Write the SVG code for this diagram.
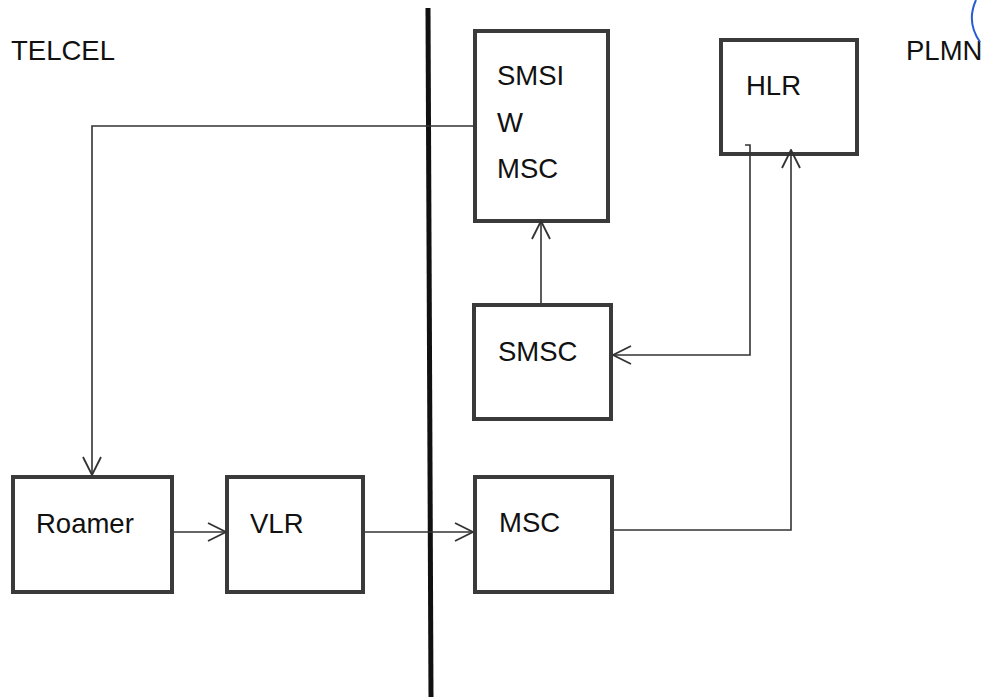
<svg xmlns="http://www.w3.org/2000/svg" width="985" height="697" viewBox="0 0 985 697">
<defs>
<style>
.box{fill:#fff;stroke:#3a3a3a;stroke-width:4}
.lbl{font-family:"Liberation Sans",Arial,sans-serif;font-size:27.5px;fill:#111}
.conn{fill:none;stroke:#333;stroke-width:1.6}
</style>
<marker id="arr" viewBox="0 0 22 22" refX="21" refY="11" markerWidth="22" markerHeight="22" markerUnits="userSpaceOnUse" orient="auto">
<path d="M3,2 L21,11 L3,20" fill="none" stroke="#333" stroke-width="1.8"/>
</marker>
</defs>
<rect width="985" height="697" fill="#fff"/>
<line x1="428" y1="8" x2="431" y2="697" stroke="#111" stroke-width="5"/>
<text class="lbl" x="11" y="60">TELCEL</text>
<text class="lbl" x="906" y="60">PLMN</text>
<path d="M976,0 Q966,22 980,42" fill="none" stroke="#2a5bd7" stroke-width="2"/>
<g id="smsiw">
<rect class="box" x="475" y="31" width="133" height="190"/>
<text class="lbl" x="497" y="85">SMSI</text>
<text class="lbl" x="497" y="132">W</text>
<text class="lbl" x="497" y="178">MSC</text>
</g>
<g id="hlr">
<rect class="box" x="721" y="40" width="136" height="114"/>
<text class="lbl" x="746" y="95">HLR</text>
</g>
<g id="smsc">
<rect class="box" x="474" y="305" width="137" height="114"/>
<text class="lbl" x="498" y="361">SMSC</text>
</g>
<g id="msc">
<rect class="box" x="475" y="477" width="137" height="115"/>
<text class="lbl" x="499" y="532">MSC</text>
</g>
<g id="roamer">
<rect class="box" x="13" y="477" width="159" height="115"/>
<text class="lbl" x="36" y="533">Roamer</text>
</g>
<g id="vlr">
<rect class="box" x="227" y="477" width="136" height="115"/>
<text class="lbl" x="250" y="533">VLR</text>
</g>
<g id="connectors">
<path class="conn" d="M474,126 H92 V475" marker-end="url(#arr)"/>
<path class="conn" d="M541,303 V221" marker-end="url(#arr)"/>
<path class="conn" d="M745,145 H750 V355 H613" marker-end="url(#arr)"/>
<path class="conn" d="M614,530 H791 V150" marker-end="url(#arr)"/>
<path class="conn" d="M174,532 H226" marker-end="url(#arr)"/>
<path class="conn" d="M365,532 H473" marker-end="url(#arr)"/>
</g>
</svg>
